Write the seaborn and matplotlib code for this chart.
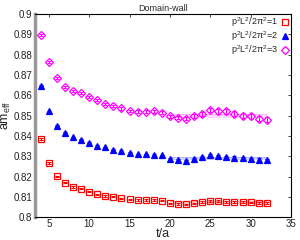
import numpy as np
import pandas as pd
import matplotlib
matplotlib.use("Agg")
import matplotlib.pyplot as plt
import seaborn as sns

t = list(range(4, 33))
m1 = [0.8385, 0.8267, 0.8201, 0.8169, 0.8149, 0.8141, 0.8125, 0.8112, 0.8104, 0.8101,
      0.8093, 0.8088, 0.8085, 0.8085, 0.8085, 0.8081, 0.8068, 0.8065, 0.8063, 0.8068,
      0.8076, 0.8081, 0.8080, 0.8076, 0.8076, 0.8075, 0.8073, 0.8071, 0.8071]
e1 = [0.0003, 0.0003, 0.0003, 0.0003, 0.0003, 0.0003, 0.0003, 0.0003, 0.0003, 0.0003,
      0.0003, 0.0003, 0.0003, 0.0003, 0.0003, 0.0003, 0.0003, 0.0003, 0.0004, 0.0004,
      0.0004, 0.0004, 0.0004, 0.0004, 0.0004, 0.0004, 0.0004, 0.0004, 0.0004]
m2 = [0.8647, 0.8520, 0.8450, 0.8415, 0.8393, 0.8382, 0.8366, 0.8350, 0.8343, 0.8333,
      0.8327, 0.8315, 0.8309, 0.8309, 0.8307, 0.8304, 0.8288, 0.8283, 0.8277, 0.8285,
      0.8296, 0.8307, 0.8301, 0.8296, 0.8293, 0.8291, 0.8285, 0.8283, 0.8280]
e2 = [0.0003, 0.0003, 0.0003, 0.0003, 0.0003, 0.0003, 0.0003, 0.0003, 0.0003, 0.0003,
      0.0004, 0.0004, 0.0004, 0.0004, 0.0004, 0.0004, 0.0005, 0.0005, 0.0005, 0.0005,
      0.0005, 0.0005, 0.0005, 0.0006, 0.0006, 0.0006, 0.0006, 0.0007, 0.0007]
m3 = [0.8898, 0.8764, 0.8684, 0.8642, 0.8621, 0.8610, 0.8592, 0.8576, 0.8558, 0.8548,
      0.8535, 0.8522, 0.8519, 0.8519, 0.8520, 0.8515, 0.8496, 0.8490, 0.8485, 0.8496,
      0.8508, 0.8528, 0.8520, 0.8520, 0.8510, 0.8500, 0.8497, 0.8485, 0.8480]
e3 = [0.0005, 0.0005, 0.0005, 0.0005, 0.0005, 0.0005, 0.0005, 0.0005, 0.0005, 0.0006,
      0.0006, 0.0006, 0.0007, 0.0007, 0.0007, 0.0008, 0.0008, 0.0009, 0.0009, 0.0010,
      0.0010, 0.0011, 0.0011, 0.0012, 0.0012, 0.0013, 0.0013, 0.0014, 0.0014]

fit_range = [20, 32]
fit_center = [0.8075, 0.8293, 0.8500]
fit_err = [0.0003, 0.0005, 0.0008]

labels = [r"p$^2$L$^2$/2$\pi^2$=1", r"p$^2$L$^2$/2$\pi^2$=2", r"p$^2$L$^2$/2$\pi^2$=3"]
colors = ["#ff0000", "#0000ff", "#ff00ff"]
markers = ["s", "^", "D"]
fills = ["none", "full", "none"]
sizes = [4.5, 4.5, 3.6]

sns.set_style("white")
plt.rcParams['font.family'] = ['Liberation Sans', 'DejaVu Sans']
plt.rcParams['mathtext.fontset'] = 'custom'
plt.rcParams['mathtext.rm'] = 'Liberation Sans'
plt.rcParams['mathtext.it'] = 'Liberation Sans'

fig = plt.figure(figsize=(3.0, 2.4), dpi=100)
ax = fig.add_axes([0.117, 0.095, 0.853, 0.847])

series = [(m1, e1), (m2, e2), (m3, e3)]
for i, (m, e) in enumerate(series):
    df = pd.DataFrame({"t": t, "m": m, "e": e})
    ax.fill_between(fit_range, fit_center[i] - fit_err[i], fit_center[i] + fit_err[i],
                    color=colors[i], alpha=0.15, lw=0, zorder=1)
    ax.hlines([fit_center[i] - fit_err[i], fit_center[i] + fit_err[i]], fit_range[0], fit_range[1],
              color=colors[i], alpha=0.25, lw=0.5, zorder=1)
    ax.errorbar(df["t"], df["m"], yerr=df["e"], fmt="none", ecolor=colors[i],
                elinewidth=0.8, capsize=1.5, capthick=0.8, zorder=2)
    sns.lineplot(data=df, x="t", y="m", ax=ax, linestyle="none", marker=markers[i],
                 markersize=sizes[i], markerfacecolor=(colors[i] if fills[i] == "full" else "none"),
                 markeredgecolor=colors[i], markeredgewidth=0.9, color=colors[i],
                 label=labels[i], zorder=3)

ax.set_xlim(3.3, 35)
ax.set_ylim(0.8, 0.9)
ax.set_xticks([5, 10, 15, 20, 25, 30, 35])
yt = np.round(np.arange(0.80, 0.9001, 0.01), 2)
ax.set_yticks(yt)
ax.set_yticklabels([("%g" % v) for v in yt])
ax.tick_params(direction="in", length=2.5, width=0.6, labelsize=7, top=True, right=True,
               colors="#222222", pad=2)
ax.tick_params(axis="x", pad=1.5)
for s in ["top", "right", "bottom"]:
    ax.spines[s].set_color("black")
    ax.spines[s].set_linewidth(0.8)
ax.spines["left"].set_color("#999999")
ax.spines["left"].set_linewidth(2.5)

ax.set_xlabel("t/a", fontsize=9, labelpad=-1)
ax.set_ylabel(r"am$_{\rm eff}$", fontsize=9, labelpad=0)
ax.set_title("Domain-wall", fontsize=6.5, pad=2)

leg = ax.legend(loc="upper right", fontsize=6.5, markerfirst=False, frameon=False,
                handlelength=1.0, handletextpad=0.2, labelspacing=0.0,
                borderaxespad=0.1, borderpad=0.1)

fig.savefig("out.png", dpi=100)
